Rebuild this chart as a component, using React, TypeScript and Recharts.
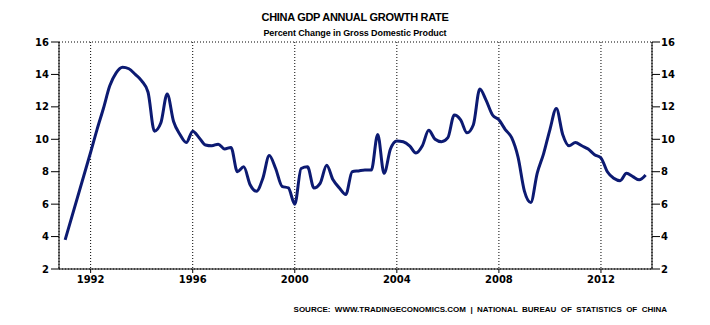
import { LineChart, Line, XAxis, YAxis, CartesianGrid } from 'recharts';

// quarterly points (first one is the 1990 annual figure, drawn at 1991)
const periods = [
  1991.0, 1992.0, 1992.25, 1992.5, 1992.75,
  1993.0, 1993.25, 1993.5, 1993.75,
  1994.0, 1994.25, 1994.5, 1994.75,
  1995.0, 1995.25, 1995.5, 1995.75,
  1996.0, 1996.25, 1996.5, 1996.75,
  1997.0, 1997.25, 1997.5, 1997.75,
  1998.0, 1998.25, 1998.5, 1998.75,
  1999.0, 1999.25, 1999.5, 1999.75,
  2000.0, 2000.25, 2000.5, 2000.75,
  2001.0, 2001.25, 2001.5, 2001.75,
  2002.0, 2002.25, 2002.5, 2002.75,
  2003.0, 2003.25, 2003.5, 2003.75,
  2004.0, 2004.25, 2004.5, 2004.75,
  2005.0, 2005.25, 2005.5, 2005.75,
  2006.0, 2006.25, 2006.5, 2006.75,
  2007.0, 2007.25, 2007.5, 2007.75,
  2008.0, 2008.25, 2008.5, 2008.75,
  2009.0, 2009.25, 2009.5, 2009.75,
  2010.0, 2010.25, 2010.5, 2010.75,
  2011.0, 2011.25, 2011.5, 2011.75,
  2012.0, 2012.25, 2012.5, 2012.75,
  2013.0, 2013.25, 2013.5, 2013.75,
];

const gdpGrowth = [
  3.8, 9.2, 10.6, 11.9, 13.3,
  14.1, 14.45, 14.35, 14.0,
  13.6, 12.9, 10.5, 11.0,
  12.8, 11.1, 10.3, 9.8,
  10.5, 10.1, 9.65, 9.6,
  9.7, 9.4, 9.5, 8.0,
  8.3, 7.2, 6.8, 7.6,
  9.0, 8.2, 7.1, 7.0,
  6.0, 8.2, 8.3, 7.0,
  7.3, 8.4, 7.5, 7.0,
  6.6, 8.0, 8.05, 8.1,
  8.1, 10.3, 7.9, 9.4,
  9.9, 9.85, 9.6, 9.15,
  9.6, 10.55, 10.0, 9.85,
  10.1, 11.5, 11.2, 10.4,
  10.9, 13.1, 12.4, 11.5,
  11.2, 10.6, 10.1, 8.9,
  6.8, 6.1, 7.9, 9.1,
  10.6, 11.9, 10.3, 9.6,
  9.8, 9.6, 9.4, 9.05,
  8.85, 8.0, 7.6, 7.45,
  7.9, 7.7, 7.5, 7.8,
];

const yearTicks = [1992, 1996, 2000, 2004, 2008, 2012];
const valueTicks = [2, 4, 6, 8, 10, 12, 14, 16];

const data = periods.map((t, i) => ({ t, value: gdpGrowth[i] }));

const tickFont = { fontFamily: 'DejaVu Sans', fontSize: 10, fontWeight: 'bold', fill: '#000' };

export default function App() {
  return (
    <div style={{ position: 'absolute', left: 0, top: 0, width: 710, height: 325, background: '#fff' }}>
      <div
        style={{
          position: 'absolute', left: 0, width: 710, top: 11, textAlign: 'center',
          fontFamily: 'Liberation Sans', fontWeight: 'bold', fontSize: 11, letterSpacing: -0.3, color: '#000',
        }}
      >
        CHINA GDP ANNUAL GROWTH RATE
      </div>
      <div
        style={{
          position: 'absolute', left: 0, width: 710, top: 28, textAlign: 'center',
          fontFamily: 'Liberation Sans', fontWeight: 'bold', fontSize: 9, letterSpacing: -0.1, color: '#000',
        }}
      >
        Percent Change in Gross Domestic Product
      </div>
      <LineChart width={710} height={325} data={data} margin={{ top: 42, right: 0, bottom: 0, left: 0 }}>
        <CartesianGrid stroke="#000" strokeDasharray="1 2" />
        <XAxis
          dataKey="t"
          type="number"
          domain={[1990.76, 2014.0]}
          ticks={yearTicks}
          allowDataOverflow
          height={56}
          tickSize={4}
          tickMargin={3}
          tick={tickFont}
          axisLine={{ stroke: '#000' }}
          tickLine={{ stroke: '#000' }}
        />
        <YAxis
          yAxisId="left"
          domain={[2, 16]}
          ticks={valueTicks}
          allowDataOverflow
          width={59}
          tickSize={8}
          tickMargin={2}
          tick={tickFont}
          axisLine={{ stroke: '#000' }}
          tickLine={{ stroke: '#000' }}
        />
        <YAxis
          yAxisId="right"
          orientation="right"
          domain={[2, 16]}
          ticks={valueTicks}
          allowDataOverflow
          width={58}
          tickSize={8}
          tickMargin={1}
          tick={tickFont}
          axisLine={{ stroke: '#000' }}
          tickLine={{ stroke: '#000' }}
        />
        <Line
          yAxisId="left"
          type="monotone"
          dataKey="value"
          stroke="#0c1a72"
          strokeWidth={3}
          dot={false}
          isAnimationActive={false}
        />
      </LineChart>
      <div
        style={{
          position: 'absolute', right: 43, top: 305, whiteSpace: 'nowrap',
          fontFamily: 'Liberation Sans', fontWeight: 'bold', fontSize: 8, wordSpacing: 2.2, color: '#000',
        }}
      >
        SOURCE: WWW.TRADINGECONOMICS.COM  |  NATIONAL BUREAU OF STATISTICS OF CHINA
      </div>
    </div>
  );
}
